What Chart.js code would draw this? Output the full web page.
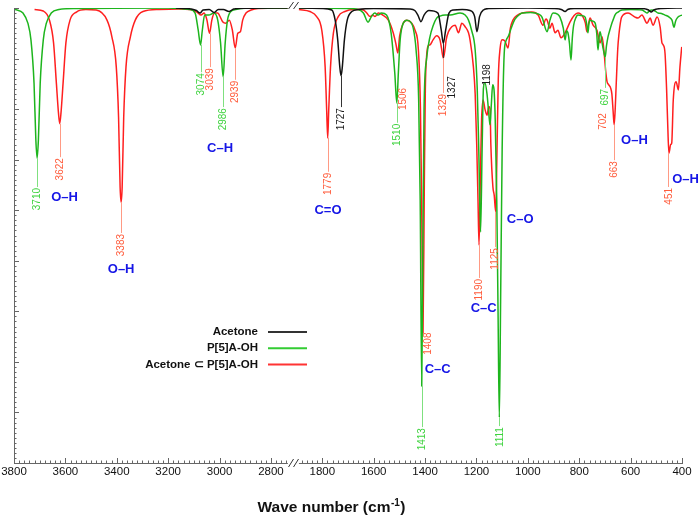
<!DOCTYPE html>
<html>
<head>
<meta charset="utf-8">
<script src="https://cdn.jsdelivr.net/npm/chart.js@4.4.1/dist/chart.umd.min.js"></script>
<style>
  html, body { margin: 0; padding: 0; background: #fff; }
</style>
</head>
<body>
<canvas id="ir" width="700" height="517"></canvas>
<script>
// IR spectra, broken wavenumber axis (3800-2740 | 1890-400)
// points are [wavenumber, depth below baseline]

const xTickLabels = [3800, 3600, 3400, 3200, 3000, 2800, 1800, 1600, 1400, 1200, 1000, 800, 600, 400];

const acetoneHi = [[3170,0],[3110,0.2],[3090,0.5],[3076,1.0],[3064,0.4],[3040,0.3],[3021,0.9],[3005,0.3],[2985,0.3],[2963,0.7],[2945,0.2],[2900,0.05],[2735,0]];
const acetoneLo = [[1891,0],[1800,0.1],[1763,0.4],[1750,2.4],[1740,6.3],[1732,11.6],[1727,13.4],[1722,11.6],[1714,6.3],[1703,2.4],[1685,0.7],[1660,0.3],[1600,0.1],[1460,0.2],[1440,0.5],[1428,1.4],[1416,2.7],[1404,1.4],[1385,0.5],[1350,1.0],[1337,4.4],[1329,7.0],[1320,4.4],[1307,1.0],[1290,0.4],[1255,0.3],[1225,0.5],[1207,1.7],[1198,4.7],[1188,1.7],[1173,0.4],[1150,0.1],[1000,0],[900,0.1],[870,0.3],[855,0.7],[845,0.3],[820,0.1],[560,0.1],[530,0.4],[520,0.8],[510,0.4],[480,0.1],[400,0]];

const p5aHi = [[3800,0.2],[3795,0.3],[3765,1.0],[3746,3.0],[3734,6.3],[3722,14.9],[3715,26],[3710,29.7],[3705,26],[3698,14.9],[3686,6.3],[3674,3.0],[3655,1.0],[3625,0.3],[3560,0.1],[3200,0],[3115,0.3],[3095,1.0],[3083,4.4],[3074,7.3],[3067,4.4],[3058,1.4],[3042,1.4],[3022,1.0],[3007,2.4],[2996,6.9],[2986,13.6],[2978,6.9],[2969,2.4],[2956,0.7],[2937,0.3],[2900,0.05],[2735,0]];
const p5aLo = [[1891,0],[1700,0.1],[1660,0.3],[1640,1.0],[1622,2.8],[1610,1.8],[1596,1.0],[1582,1.4],[1570,1.0],[1550,1.4],[1532,5.0],[1518,12.8],[1510,18.8],[1504,12.8],[1497,6.3],[1485,3.0],[1471,2.4],[1458,2.7],[1446,4.0],[1435,8.3],[1425,18],[1419,38],[1413,74.8],[1409,50],[1404,20],[1394,10],[1381,5.7],[1368,3.4],[1355,2.0],[1342,1.6],[1322,1.4],[1302,1.4],[1264,1.0],[1244,1.4],[1231,2.4],[1219,4.4],[1205,8.3],[1197,16],[1191,28],[1184,44.3],[1178,28],[1173,16],[1167,14.8],[1159,17],[1150,22],[1147,23.1],[1142,19],[1137,15.2],[1132,16],[1127,22],[1121,38],[1116,60],[1111,81],[1106,58],[1100,28],[1092,9],[1085,6.5],[1075,5.5],[1065,4],[1050,2.2],[1030,1.2],[1022,1.0],[990,0.9],[972,1.0],[958,1.2],[945,1.8],[925,4.7],[914,2.4],[902,1.0],[885,1.2],[875,1.8],[862,4],[855,6.3],[849,4.5],[844,4.9],[838,7],[832,10.3],[827,6],[822,3.5],[812,1.8],[805,1.4],[790,1.5],[777,1.8],[770,3.5],[766,4.9],[762,3],[758,2.4],[748,2.6],[738,3.0],[732,5],[727,8.3],[722,5.5],[719,4.7],[715,5.5],[711,6.9],[705,8.5],[699,9.7],[694,7.5],[688,5.7],[680,4.2],[673,3.0],[667,2.2],[661,1.4],[649,0.8],[634,0.4],[600,0.3],[556,0.4],[545,0.7],[536,1.0],[528,0.6],[517,0.4],[505,0.6],[493,1.0],[480,1.1],[466,1.4],[450,1.8],[439,2.4],[431,3.8],[425,2.6],[419,2.0],[410,1.6],[400,1.4]];

const complexHi = [[3720,0.3],[3686,0.6],[3662,2.4],[3646,6.9],[3635,14.9],[3627,20.7],[3622,22.9],[3617,20.7],[3609,14.9],[3598,6.9],[3582,2.4],[3557,0.8],[3520,0.3],[3480,0.4],[3438,2.4],[3419,5.7],[3402,11.6],[3393,21.6],[3387,35.4],[3383,38.4],[3379,35.4],[3373,21.6],[3364,11.6],[3347,5.7],[3328,2.4],[3298,0.7],[3235,0.3],[3160,0.2],[3115,0.3],[3088,0.8],[3072,1.4],[3060,1.0],[3049,2.4],[3039,5.0],[3030,2.4],[3020,1.0],[3007,1.0],[3001,1.4],[2988,2.7],[2975,3.0],[2962,2.4],[2950,4.4],[2939,7.9],[2929,5.0],[2919,4.7],[2910,2.4],[2897,1.0],[2877,0.4],[2850,0.1],[2735,0]];
const complexLo = [[1891,0.3],[1848,0.7],[1822,1.7],[1802,4.4],[1789,11.6],[1783,20.2],[1779,25.7],[1775,20.2],[1768,11.6],[1757,5.0],[1738,1.7],[1712,0.7],[1680,0.3],[1655,0.3],[1640,0.4],[1627,1.0],[1614,1.7],[1604,1.4],[1595,1.7],[1582,1.0],[1565,1.4],[1543,2.4],[1524,4.9],[1514,7.0],[1506,8.9],[1499,5.5],[1485,3.0],[1471,2.4],[1452,3.0],[1439,4.4],[1426,8.3],[1418,20],[1413,40],[1408,64.3],[1403,35],[1399,16],[1394,9.5],[1388,7.5],[1381,7.3],[1369,6.3],[1355,5.5],[1342,6.3],[1336,8],[1329,9.9],[1322,8],[1318,6.3],[1309,4.7],[1296,3.7],[1283,3.4],[1270,4.9],[1257,3.0],[1244,3.7],[1231,4.9],[1225,6.3],[1212,11.6],[1205,17],[1199,27],[1194,38],[1190,46.9],[1185,34],[1180,22],[1174,18.2],[1167,20],[1159,21.2],[1152,19.5],[1147,20],[1144,27],[1136,35.4],[1131,37],[1125,40.3],[1120,28],[1115,14],[1108,8],[1100,6.3],[1090,6.5],[1077,7.9],[1068,4],[1058,2.4],[1040,1.4],[1022,1.0],[984,0.8],[960,1.4],[941,3.4],[930,2.2],[925,2.4],[914,4.0],[906,3.0],[894,4.9],[883,4.4],[871,5.9],[855,4.9],[836,2.8],[820,1.5],[805,1.0],[785,1.8],[776,3],[770,4.7],[763,3],[758,2.0],[746,3.4],[731,4.4],[719,6.9],[711,5.7],[702,9.5],[697,12.5],[692,14.5],[685,15.2],[678,15.8],[673,17],[668,20.5],[664,23.1],[660,20],[656,15],[650,8],[645,5],[640,3],[635,1.8],[610,1.0],[583,1.8],[571,2.0],[556,1.4],[536,3.0],[524,2.0],[513,3.4],[497,1.8],[485,3.8],[478,6.9],[473,7.3],[466,9],[460,16],[455,24],[451,28.7],[444,27],[440,26.7],[434,18.2],[423,14.6],[414,16.2],[408,11.7],[401,7.7]];

// peak labels: [text, wavenumber, depth of text top]; leaders: [wavenumber, from depth, to depth]
const acetoneLabels = [["1727",1727,19.6],["1327",1295,13.3],["1198",1159,10.9]];
const acetoneLeaders = [[1727,13.4,19.6],[1329,7.0,16.4]];
const p5aLabels = [["3710",3710,35.4],["3074",3074,12.7],["2986",2986,19.6],["1510",1510,22.7],["1413",1413,82.9],["1111",1111,82.7],["697",699,15.8]];
const p5aLeaders = [[3710,29.7,35.4],[3074,7.3,12.7],[2986,13.6,19.6],[1510,18.8,22.7],[1413,74.8,82.9],[1111,81,82.7],[699,9.7,15.8]];
const complexLabels = [["3622",3622,29.5],["3383",3383,44.5],["3039",3039,11.7],["2939",2939,14.2],["1779",1779,32.4],["1506",1486,15.6],["1408",1388,64.0],["1329",1330,16.8],["1190",1190,53.4],["1125",1127,47.3],["702",707,20.6],["663",664,30.1],["451",453,35.4]];
const complexLeaders = [[3622,22.9,29.5],[3383,38.4,44.5],[3039,5.0,11.7],[2939,7.9,14.2],[1779,25.7,32.4],[1329,9.9,16.8],[1190,46.9,53.4],[1127,40.3,47.3],[664,23.1,30.1],[453,28.7,35.4]];

// bond assignments: [text, wavenumber, depth]
const bondLabels = [["O\u2013H",3603,37.4],["O\u2013H",3383,51.8],["C\u2013H",2998,27.7],["C=O",1778,40.0],["C\u2013C",1351,71.4],["C\u2013C",1172,59.5],["C\u2013O",1030,41.9],["O\u2013H",585,26.2],["O\u2013H",386,34.0]];

const seriesNames = ["Acetone", "P[5]A-OH", "Acetone \u2282 P[5]A-OH"];

// the axis skips 2740..1890: high wavenumbers are shifted by 800
const toAxis = w => (w > 2200 ? w - 800 : w);
const toPts = arr => arr.map(([w, d]) => ({x: toAxis(w), y: d}));
const joined = (hi, lo) => toPts(hi).concat([{x: 1912, y: null}], toPts(lo));

const FONT = "'Liberation Sans', Arial, Helvetica, sans-serif";
const lineCol = ["#111111", "#1db51d", "#ff1f1f"];
const labelCol = ["#1a1a1a", "#3fd33f", "#ff5c3c"];
const leaderCol = ["#333333", "#7fe07f", "#ff9a84"];
const legendCol = ["#333333", "#33cc33", "#ff3333"];

const decor = {
  id: "irDecor",
  afterDatasetsDraw(chart) {
    const {ctx, chartArea: a, scales: {x, y}} = chart;
    const px = w => x.getPixelForValue(toAxis(w));
    const py = d => y.getPixelForValue(d);
    const gapL = x.getPixelForValue(1934), gapR = x.getPixelForValue(1891);
    const gapMid = x.getPixelForValue(1912);
    ctx.save();

    // axes
    ctx.strokeStyle = "#666";
    ctx.lineWidth = 1;
    ctx.beginPath();
    ctx.moveTo(a.left + 0.5, a.top); ctx.lineTo(a.left + 0.5, a.bottom + 0.5);
    ctx.moveTo(a.left, a.bottom + 0.5); ctx.lineTo(gapL, a.bottom + 0.5);
    ctx.moveTo(gapR, a.bottom + 0.5); ctx.lineTo(a.right + 1, a.bottom + 0.5);
    for (let v = 0; v <= 90; v++) {
      const yy = Math.round(py(v)) + 0.5;
      ctx.moveTo(a.left, yy); ctx.lineTo(a.left + (v % 10 === 0 ? 5 : 2.5), yy);
    }
    const xt = [];
    for (let c = 3000; c >= 1940; c -= 20) xt.push(c);
    for (let c = 1880; c >= 400; c -= 20) xt.push(c);
    xt.forEach(c => {
      const xx = Math.round(x.getPixelForValue(c)) + 0.5;
      ctx.moveTo(xx, a.bottom); ctx.lineTo(xx, a.bottom - (c % 200 === 0 ? 5 : 2.5));
    });
    ctx.stroke();

    // axis break marks
    ctx.strokeStyle = "#333";
    ctx.beginPath();
    [-2.5, 2.5].forEach(o => {
      ctx.moveTo(gapMid + o - 2.5, a.bottom + 4); ctx.lineTo(gapMid + o + 2.5, a.bottom - 4);
      ctx.moveTo(gapMid + o - 2.5, a.top + 1); ctx.lineTo(gapMid + o + 2.5, a.top - 6);
    });
    ctx.stroke();

    // tick labels
    ctx.fillStyle = "#111";
    ctx.font = `11.5px ${FONT}`;
    ctx.textAlign = "center";
    ctx.textBaseline = "middle";
    xTickLabels.forEach(w => ctx.fillText(String(w), px(w), a.bottom + 9));

    // axis title with superscript
    const t1 = "Wave number (cm", sup = "-1", t2 = ")";
    ctx.font = `bold 15.5px ${FONT}`;
    const w1 = ctx.measureText(t1).width, w3 = ctx.measureText(t2).width;
    ctx.font = `bold 10px ${FONT}`;
    const w2 = ctx.measureText(sup).width;
    let tx = 331 - (w1 + w2 + w3) / 2;
    const tb = a.bottom + 49;
    ctx.textAlign = "left";
    ctx.textBaseline = "alphabetic";
    ctx.font = `bold 15.5px ${FONT}`;
    ctx.fillText(t1, tx, tb);
    ctx.font = `bold 10px ${FONT}`;
    ctx.fillText(sup, tx + w1 + 0.5, tb - 6);
    ctx.font = `bold 15.5px ${FONT}`;
    ctx.fillText(t2, tx + w1 + w2 + 1, tb);

    // peak leaders and labels
    const groups = [[acetoneLeaders, acetoneLabels], [p5aLeaders, p5aLabels], [complexLeaders, complexLabels]];
    groups.forEach(([leaders, labels], i) => {
      ctx.strokeStyle = leaderCol[i];
      ctx.lineWidth = 1;
      ctx.beginPath();
      leaders.forEach(([w, d0, d1]) => {
        const xx = Math.round(px(w)) + 0.5;
        ctx.moveTo(xx, py(d0)); ctx.lineTo(xx, py(d1));
      });
      ctx.stroke();
      ctx.fillStyle = labelCol[i];
      ctx.font = `10px ${FONT}`;
      ctx.textAlign = "right";
      ctx.textBaseline = "middle";
      labels.forEach(([txt, w, d]) => {
        ctx.save();
        ctx.translate(px(w) + 0.5, py(d) + 1);
        ctx.rotate(-Math.PI / 2);
        ctx.fillText(txt, 0, 0);
        ctx.restore();
      });
    });

    // bond assignments
    ctx.fillStyle = "#1616e6";
    ctx.font = `bold 13px ${FONT}`;
    ctx.textAlign = "center";
    ctx.textBaseline = "middle";
    bondLabels.forEach(([txt, w, d]) => ctx.fillText(txt, px(w), py(d)));

    // legend
    ctx.font = `bold 11.5px ${FONT}`;
    ctx.textAlign = "right";
    chart.data.datasets.forEach((ds, i) => {
      const ly = 332 + i * 16.3;
      ctx.fillStyle = "#111";
      ctx.fillText(ds.label, 258, ly);
      ctx.strokeStyle = legendCol[i];
      ctx.lineWidth = 2;
      ctx.beginPath();
      ctx.moveTo(268, ly); ctx.lineTo(307, ly);
      ctx.stroke();
    });
    ctx.restore();
  }
};

const mkSet = (i, data) => ({
  label: seriesNames[i],
  data,
  borderColor: lineCol[i],
  borderWidth: 1.5,
  pointRadius: 0,
  spanGaps: false,
  cubicInterpolationMode: "monotone",
  fill: false
});

new Chart(document.getElementById("ir"), {
  type: "line",
  data: {
    datasets: [
      mkSet(0, joined(acetoneHi, acetoneLo)),
      mkSet(1, joined(p5aHi, p5aLo)),
      mkSet(2, joined(complexHi, complexLo))
    ]
  },
  options: {
    responsive: false,
    animation: false,
    devicePixelRatio: 1,
    parsing: true,
    layout: {padding: {left: 14, right: 18, top: 8, bottom: 54}},
    scales: {
      x: {type: "linear", min: 400, max: 3000, reverse: true, display: false},
      y: {type: "linear", min: 0, max: 90, reverse: true, display: false}
    },
    plugins: {legend: {display: false}, tooltip: {enabled: false}}
  },
  plugins: [decor]
});
</script>
</body>
</html>
